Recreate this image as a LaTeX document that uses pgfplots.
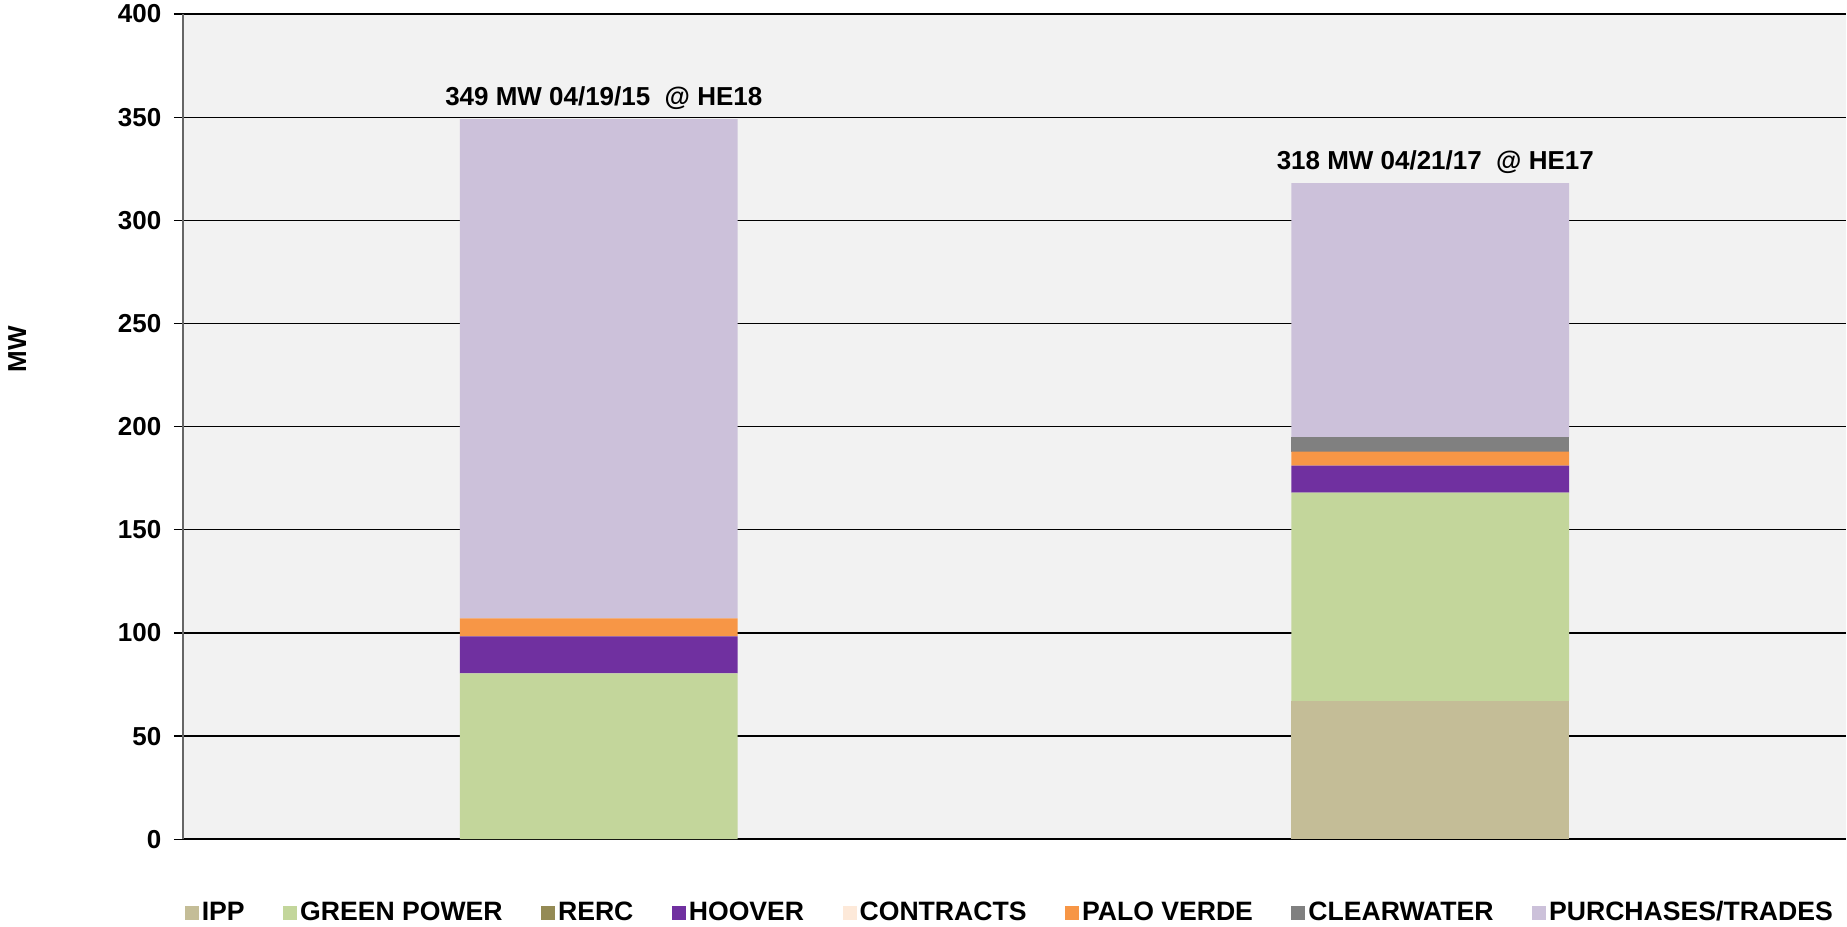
\documentclass[border=0pt]{standalone}
\usepackage{pgfplots}
\pgfplotsset{compat=1.18}
\usepackage{fontspec}
\setmainfont{Liberation Sans}
\definecolor{cIPP}{HTML}{C4BD97}
\definecolor{cGRN}{HTML}{C3D69B}
\definecolor{cRERC}{HTML}{948A54}
\definecolor{cHOOV}{HTML}{7030A0}
\definecolor{cCON}{HTML}{FDE9D9}
\definecolor{cPV}{HTML}{F79646}
\definecolor{cCW}{HTML}{808080}
\definecolor{cPUR}{HTML}{CCC1DA}
\definecolor{bgcol}{HTML}{F2F2F2}
\newcommand\lbl{\fontsize{10.4}{12.5}\selectfont\bfseries}
\newcommand\leglbl{\fontsize{10.65}{12.5}\selectfont\bfseries}
\begin{document}
\begin{tikzpicture}
\path (-73pt,-34.8pt) rectangle (665.8pt,336pt);
\begin{axis}[
  at={(0,0)}, anchor=south west,
  scale only axis, width=665.8pt, height=330.4pt,
  ybar stacked, bar width=0.334,
  legend image code/.code={\fill[#1] (0pt,-2.8pt) rectangle (5.6pt,2.8pt);},
  xmin=-0.5, xmax=1.5, ymin=0, ymax=400,
  ytick={0,50,...,400}, xtick=\empty,
  axis x line*=bottom, axis y line*=left,
  x axis line style={black, line width=0.8pt, -},
  y axis line style={black!60, line width=1pt, -},
  ymajorgrids, major grid style={black, line width=0.5pt},
  tick align=outside, major tick length=3.7pt,
  ytick style={black, line width=0.5pt},
  yticklabel style={font=\lbl, inner ysep=0pt, xshift=-1.5pt},
  /pgf/number format/assume math mode=true,
  axis background/.style={fill=bgcol},
  ylabel={MW},
  every axis y label/.style={at={(axis description cs:-0.0997,0.594)}, rotate=90, anchor=center, font=\lbl},
  legend style={at={(axis description cs:0.4975,-0.0894)}, anchor=center, draw=none, fill=none, font=\leglbl,
    inner sep=0pt, outer sep=0pt,
    /tikz/every even column/.append style={column sep=14.2pt}, nodes={inner xsep=1.2pt, inner ysep=1pt}},
  legend columns=-1,
]
\addplot[fill=cIPP, draw=none] coordinates {(0,0) (1,67.0)};
\addplot[fill=cGRN, draw=none] coordinates {(0,80.4) (1,101.0)};
\addplot[fill=cRERC, draw=none] coordinates {(0,0) (1,0)};
\addplot[fill=cHOOV, draw=none] coordinates {(0,17.9) (1,13.1)};
\addplot[fill=cCON, draw=none] coordinates {(0,0) (1,0)};
\addplot[fill=cPV, draw=none] coordinates {(0,8.7) (1,6.8)};
\addplot[fill=cCW, draw=none] coordinates {(0,0) (1,6.9)};
\addplot[fill=cPUR, draw=none] coordinates {(0,242.0) (1,123.2)};
\addplot[draw=none, fill=none, forget plot, stack plots=false, nodes near coords, point meta=explicit symbolic,
  visualization depends on={y \as \myy},
  nodes near coords style={font=\lbl, anchor=south, inner sep=0pt, xshift=2pt, yshift={0.413pt*\myy+3.7pt}, text=black}]
  coordinates {(0,349) [349 MW 04/19/15\ \ @ HE18] (1,318) [318 MW 04/21/17\ \ @ HE17]};
\legend{IPP, GREEN POWER, RERC, HOOVER, CONTRACTS, PALO VERDE, CLEARWATER, PURCHASES/TRADES}
\end{axis}
\end{tikzpicture}
\end{document}
